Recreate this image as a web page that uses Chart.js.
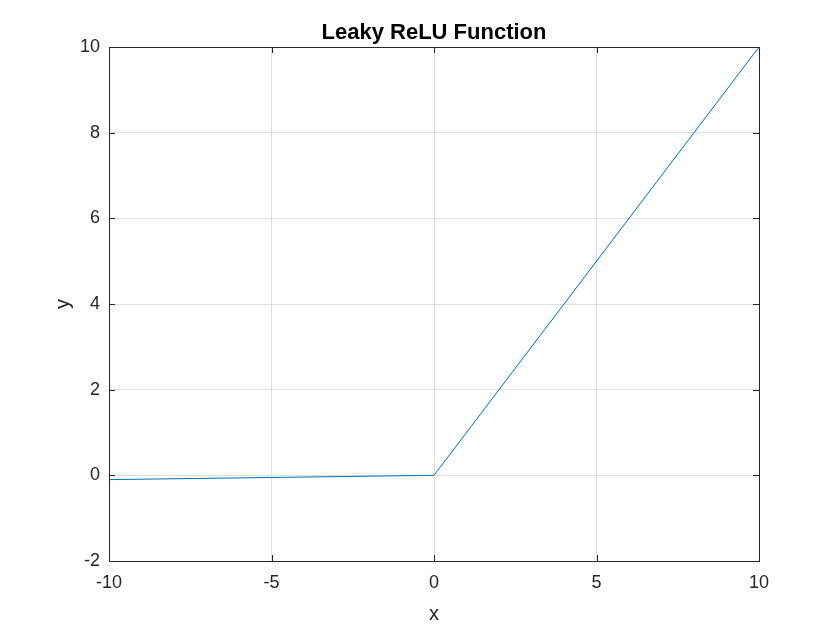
<!DOCTYPE html>
<html>

<head>
  <meta charset="utf-8">
  <script src="https://cdn.jsdelivr.net/npm/chart.js@4.4.1/dist/chart.umd.min.js"></script>
  <title>Leaky ReLU Function</title>
  <style>
    html, body { margin: 0; padding: 0; background: #fff; }
    #wrap { width: 840px; height: 630px; }
  </style>
</head>

<body>
  <div id="wrap"><canvas id="relu"></canvas></div>

  <script>
    // data
    const xValues = [-10, 0, 10];
    const yValues = [-0.1, 0, 10];
    const xTicks = [-10, -5, 0, 5, 10];
    const yTicks = [-2, 0, 2, 4, 6, 8, 10];
    const chartTitle = "Leaky ReLU Function";

    const points = xValues.map((x, i) => ({ x: x, y: yValues[i] }));

    const axisColor = "#262626";
    const gridColor = "#dfdfdf";
    const font = "'Liberation Sans', Arial, Helvetica, sans-serif";

    // box round the axes, inward tick marks and a title centred on the axes
    const boxTicks = {
      id: "boxTicks",
      afterDatasetsDraw(chart) {
        const { ctx, chartArea: a, scales } = chart;
        ctx.save();
        ctx.strokeStyle = axisColor;
        ctx.lineWidth = 1;
        ctx.beginPath();
        xTicks.forEach(v => {
          const px = Math.round(scales.x.getPixelForValue(v)) + 0.5;
          ctx.moveTo(px, a.bottom); ctx.lineTo(px, a.bottom - 6);
          ctx.moveTo(px, a.top); ctx.lineTo(px, a.top + 6);
        });
        yTicks.forEach(v => {
          const py = Math.round(scales.y.getPixelForValue(v)) + 0.5;
          ctx.moveTo(a.left, py); ctx.lineTo(a.left + 6, py);
          ctx.moveTo(a.right, py); ctx.lineTo(a.right - 6, py);
        });
        ctx.stroke();
        ctx.strokeRect(Math.round(a.left) + 0.5, Math.round(a.top) + 0.5,
          Math.round(a.right - a.left), Math.round(a.bottom - a.top));

        // title
        ctx.fillStyle = "#000";
        ctx.font = "bold 22px " + font;
        ctx.textAlign = "center";
        ctx.textBaseline = "alphabetic";
        ctx.fillText(chartTitle, (a.left + a.right) / 2, 39);
        ctx.restore();
      }
    };

    new Chart(document.getElementById("relu"), {
      type: "scatter",
      data: {
        datasets: [{
          data: points,
          showLine: true,
          borderColor: "#0072bd",
          borderWidth: 1,
          pointRadius: 0,
          fill: false,
        }],
      },
      options: {
        responsive: true,
        maintainAspectRatio: false,
        animation: false,
        layout: { padding: { left: 48, right: 81, top: 47, bottom: 0 } },
        plugins: {
          legend: { display: false },
          tooltip: { enabled: false },
          title: { display: false },
        },
        scales: {
          x: {
            type: "linear",
            min: -10, max: 10,
            afterBuildTicks: s => { s.ticks = xTicks.map(v => ({ value: v })); },
            afterFit: s => { s.height = 69; },
            grid: { color: gridColor, drawTicks: false },
            border: { display: false },
            ticks: { color: axisColor, padding: 11, font: { family: font, size: 18 } },
            title: {
              display: true, text: "x", color: axisColor, padding: { top: 5 },
              font: { family: font, size: 20 },
            },
          },
          y: {
            type: "linear",
            min: -2, max: 10,
            afterBuildTicks: s => { s.ticks = yTicks.map(v => ({ value: v })); },
            afterFit: s => { s.width = 61; },
            grid: { color: gridColor, drawTicks: false },
            border: { display: false },
            ticks: { color: axisColor, padding: 9, font: { family: font, size: 18 } },
            title: {
              display: true, text: "y", color: axisColor, padding: { top: 3 },
              font: { family: font, size: 20 },
            },
          },
        },
      },
      plugins: [boxTicks],
    });
  </script>

</body>
</html>
